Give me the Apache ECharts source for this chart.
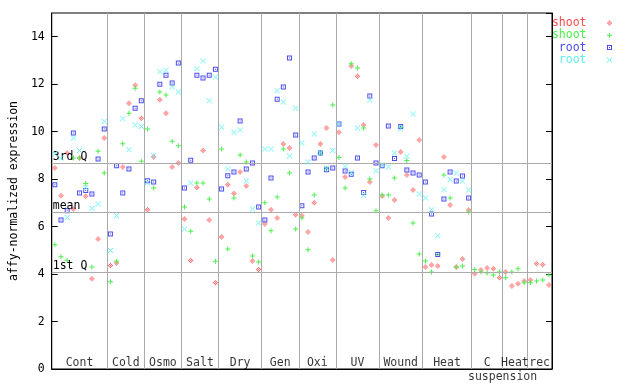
<!DOCTYPE html>
<html><head><meta charset="utf-8">
<script src="https://cdn.jsdelivr.net/npm/echarts/dist/echarts.min.js"></script>
<style>html,body{margin:0;padding:0;background:#fff}#c{width:640px;height:384px}</style>
</head><body><div id="c"></div>
<script>
// ---- data ----
const groupNames = ['Cont','Cold','Osmo','Salt','Dry','Gen','Oxi','UV','Wound','Heat','C suspension','Heat','rec'];
const groupSizes = [9,6,6,6,7,6,6,7,7,8,5,4,4];
const quartileNames = ['3rd Q','mean','1st Q'];
const quartileValues = [8.68, 6.61, 4.08];
const seriesNames = ['shoot','shoot ','root','root '];

const shootRep1 = [8.47,7.30,9.10,6.74,8.89,7.28,3.80,5.48,9.73,
  4.36,4.47,8.51,11.20,11.96,10.57,
  6.71,8.93,11.34,10.78,8.51,8.68,
  6.32,4.57,7.65,9.21,6.28,3.63,
  5.56,7.76,7.39,8.30,7.71,4.55,4.19,
  6.11,6.71,6.36,9.48,9.31,6.50,
  6.46,5.77,7.00,9.48,10.15,4.59,
  9.98,8.09,12.77,12.34,10.28,7.88,9.44,
  7.29,6.36,7.12,9.14,8.17,7.54,9.65,
  4.30,4.38,4.34,8.93,6.91,4.30,4.63,6.70,
  4.01,4.17,4.26,4.22,3.84,
  4.09,3.50,3.59,3.71,
  3.75,4.43,4.39,3.54];
const shootRep2 = [5.23,4.73,4.57,8.89,8.89,7.82,4.30,9.17,8.26,
  3.68,4.54,9.49,10.78,11.83,8.75,
  10.11,7.63,11.67,11.55,9.60,9.41,
  6.83,5.80,7.84,7.84,7.16,4.54,
  9.27,5.06,7.20,9.02,8.72,4.76,4.51,
  7.00,5.83,7.25,9.27,8.26,5.90,
  6.36,5.02,7.33,9.10,8.45,11.12,
  8.91,7.63,12.86,12.68,10.15,8.01,6.67,
  7.33,7.33,8.05,10.20,8.78,6.15,4.85,
  4.55,4.09,4.82,8.17,7.20,4.30,4.34,6.62,
  4.19,4.09,4.05,3.96,4.09,
  3.84,4.09,4.22,3.63,
  3.63,3.71,3.75,3.96];
const rootRep1 = [7.76,6.28,6.67,9.94,7.42,7.52,7.37,8.85,10.11,
  5.69,8.56,7.42,8.43,10.99,11.30,
  7.93,7.88,12.00,12.38,12.05,12.89,
  7.63,8.80,12.38,12.26,12.38,12.63,
  7.58,8.14,8.30,10.45,8.43,8.68,6.83,
  6.28,8.05,11.37,11.88,13.10,9.86,
  6.88,8.30,8.89,9.10,8.40,8.47,
  10.32,8.34,8.21,8.89,7.44,11.50,8.68,
  8.56,10.24,8.87,10.22,8.38,8.26,8.17,
  7.88,6.53,4.82,7.16,8.30,7.92,8.13,7.21];
const rootRep2 = [9.07,8.89,6.38,9.73,9.21,7.65,6.76,6.95,10.43,
  4.99,6.46,10.54,9.24,10.28,10.22,
  7.85,9.00,12.52,12.59,11.88,11.67,
  5.90,7.84,12.65,12.98,11.30,12.30,
  10.19,8.43,9.98,10.07,7.92,6.74,6.15,
  9.27,9.27,11.72,11.25,8.97,10.99,
  9.52,8.72,9.90,9.10,8.47,9.21,
  10.32,8.54,8.28,10.15,7.32,11.33,8.35,
  8.60,8.51,9.10,10.12,8.96,10.74,7.37,
  7.20,6.71,5.61,7.55,7.98,8.26,7.92,7.54];

// ---- styling ----
const FONT = 'DejaVu Sans Mono';
const FS = 11.5;
const colors = ['#ff4c4c', '#4cf04c', '#4c4cf2', '#5ff0f0'];

function pixels(list) {
  return 'path://' + list.map(p => 'M' + p[0] + ',' + p[1] + 'h1v1h-1z').join('');
}
const symDiamond = pixels([[2,0],[1,1],[3,1],[0,2],[2,2],[4,2],[1,3],[3,3],[2,4]]);
const symPlus = 'path://M2,0h1v5h-1z M0,2h2v1h-2z M3,2h2v1h-2z';
const symSquare = 'path://M0,0h5v1h-5z M0,4h5v1h-5z M0,1h1v3h-1z M4,1h1v3h-1z M2,2h1v1h-1z';
const symCross = pixels([[0,0],[4,0],[1,1],[3,1],[2,2],[1,3],[3,3],[0,4],[4,4]]);
const symbols = [symDiamond, symPlus, symSquare, symCross];

const total = groupSizes.reduce((a, b) => a + b, 0);
const bounds = [];
const centers = [];
let acc = 0;
groupSizes.forEach(s => { centers.push(acc + s / 2); acc += s; bounds.push(acc); });
bounds.pop();

function toPoints(arr) {
  const out = [];
  arr.forEach((v, i) => { if (v != null) out.push([i + 0.5, v]); });
  return out;
}
const allData = [shootRep1, shootRep2, rootRep1, rootRep2];

const chart = echarts.init(document.getElementById('c'), null, {renderer: 'canvas'});

const markData = bounds.map(b => ({xAxis: b}))
  .concat(quartileValues.map((q, i) => ({
    yAxis: q, name: quartileNames[i],
    label: {show: true, position: 'insideStartTop', formatter: '{b}', color: '#000',
      fontFamily: FONT, fontSize: FS, distance: [1, 0], padding: 0}
  })));

const labelTop = groupNames.map((n, i) => ({value: [centers[i], 0], name: n.split(' ')[0]}));
const labelBelow = [];
groupNames.forEach((n, i) => {
  const parts = n.split(' ');
  if (parts.length > 1) {
    const end = centers[i] + groupSizes[i] / 2;
    labelBelow.push({value: [end, 0], name: parts.slice(1).join(' ')});
  }
});

const series = [{
  type: 'line', data: [], silent: true, z: 1,
  markLine: {
    symbol: 'none', silent: true, animation: false,
    lineStyle: {color: '#aaaaaa', type: 'solid', width: 1},
    label: {show: false},
    emphasis: {disabled: true},
    data: markData
  }
}];
allData.forEach((arr, k) => {
  series.push({
    name: seriesNames[k], type: 'scatter', data: toPoints(arr),
    symbol: symbols[k], symbolSize: 5,
    itemStyle: {color: colors[k], opacity: 1},
    emphasis: {disabled: true}, animation: false, z: 2 + k
  });
});
series.push({
  type: 'scatter', data: labelTop, symbolSize: 0, silent: true, z: 10,
  label: {show: true, position: 'top', distance: 0, formatter: p => p.name,
    color: '#000', fontFamily: FONT, fontSize: FS},
  animation: false
});
series.push({
  type: 'scatter', data: labelBelow, symbolSize: 0, silent: true, z: 10,
  label: {show: true, position: 'bottom', distance: 2, formatter: p => p.name,
    color: '#000', fontFamily: FONT, fontSize: FS},
  animation: false
});

chart.setOption({
  animation: false,
  backgroundColor: '#fff',
  grid: {left: 44, right: 88, top: 13, bottom: 15, show: true, borderColor: '#000', borderWidth: 1, backgroundColor: 'transparent'},
  legend: {
    orient: 'vertical', right: 28, top: 17, align: 'right',
    itemWidth: 36, itemHeight: 5, itemGap: 0.3, selectedMode: false,
    padding: 0,
    textStyle: {fontFamily: FONT, fontSize: FS, lineHeight: 11},
    formatter: n => n.trim(),
    data: seriesNames.map((n, k) => ({name: n, textStyle: {color: colors[k]}}))
  },
  xAxis: {
    type: 'value', min: 0, max: total,
    axisLine: {show: true, lineStyle: {color: '#000'}},
    axisTick: {show: false}, axisLabel: {show: false}, splitLine: {show: false}
  },
  yAxis: [{
    type: 'value', min: 0, max: 15, interval: 2,
    name: 'affy-normalized expression', nameLocation: 'middle', nameGap: 27,
    nameTextStyle: {fontFamily: FONT, fontSize: FS, color: '#000'},
    axisLine: {show: true, lineStyle: {color: '#000'}},
    axisTick: {show: true, inside: true, length: 6, lineStyle: {color: '#000'}},
    axisLabel: {color: '#000', fontFamily: FONT, fontSize: FS, margin: 7, showMaxLabel: false},
    splitLine: {show: false}
  }, {
    type: 'value', min: 0, max: 15, interval: 2, position: 'right',
    axisLine: {show: true, lineStyle: {color: '#000'}},
    axisTick: {show: true, inside: true, length: 6, lineStyle: {color: '#000'}},
    axisLabel: {show: false}, splitLine: {show: false}
  }],
  series: series
});
</script>
</body></html>
